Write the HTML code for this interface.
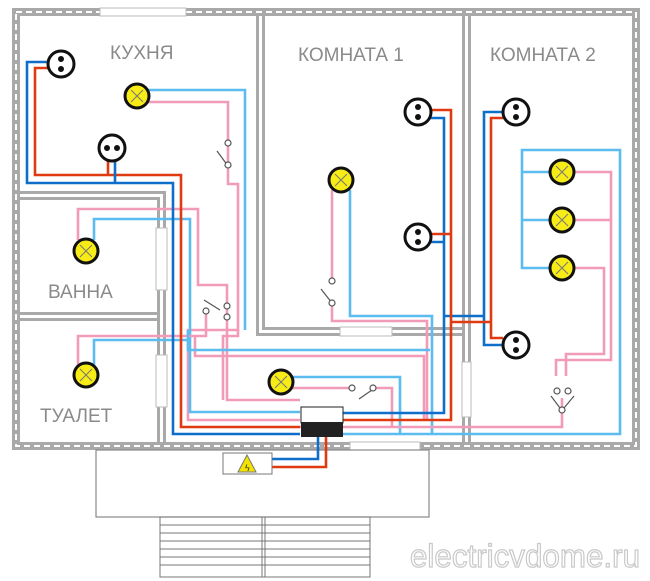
<!DOCTYPE html>
<html><head><meta charset="utf-8"><style>html,body{margin:0;padding:0;background:#fff}svg{display:block}</style></head><body>
<svg width="650" height="581" viewBox="0 0 650 581" xmlns="http://www.w3.org/2000/svg" font-family="Liberation Sans, sans-serif">
<!-- outer walls -->
<g fill="none" stroke="#a9a9a9">
<rect x="16" y="12" width="620" height="434" stroke-width="8"/>
<rect x="16" y="12" width="620" height="434" stroke-width="2" stroke="#fff" stroke-dasharray="6 4"/>
</g>
<rect x="100" y="8" width="86" height="8" fill="#fff" stroke="#bbb"/>
<rect x="350" y="442" width="70" height="8" fill="#fff" stroke="#bbb"/>
<!-- inner walls -->
<g fill="#a9a9a9">
<rect x="256" y="16" width="3" height="320"/><rect x="262" y="16" width="3" height="314"/>
<rect x="262" y="327" width="200" height="3"/><rect x="256" y="333" width="206" height="3"/>
<rect x="462" y="16" width="3" height="426"/><rect x="468" y="16" width="3" height="426"/>
<rect x="20" y="191" width="146" height="3"/><rect x="20" y="197" width="140" height="3"/>
<rect x="20" y="312" width="140" height="3"/><rect x="20" y="318" width="140" height="3"/>
<rect x="157" y="197" width="3" height="245"/><rect x="163" y="191" width="3" height="251"/>
</g>
<rect x="340" y="327" width="52" height="9" fill="#fff" stroke="#bbb"/>
<rect x="156" y="228" width="11" height="62" fill="#fff" stroke="#bbb"/>
<rect x="156" y="355" width="11" height="52" fill="#fff" stroke="#bbb"/>
<rect x="462" y="362" width="9" height="55" fill="#fff" stroke="#bbb"/>
<!-- lower building & stairs -->
<rect x="96" y="450" width="333" height="67" fill="none" stroke="#888" stroke-width="1.2"/>
<g stroke="#777" stroke-width="1" fill="none">
<rect x="160" y="517" width="210" height="60"/>
<path d="M160 525H370M160 533H370M160 541H370M160 549H370M160 557H370M160 565H370M262 517V577M265 517V577"/>
</g>
<!-- labels -->
<g fill="#8a8a8a" font-size="19">
<text x="110" y="59">КУХНЯ</text>
<text x="298" y="61">КОМНАТА 1</text>
<text x="490" y="61">КОМНАТА 2</text>
<text x="48" y="298">ВАННА</text>
<text x="40" y="422">ТУАЛЕТ</text>
</g>
<text x="410" y="567" font-size="32" fill="#fff" stroke="#c8c8c8" stroke-width="1.2" textLength="230" lengthAdjust="spacingAndGlyphs">electricvdome.ru</text>
<!-- wires -->
<g fill="none" stroke-width="2.6">
<path stroke="#f29bb8" d="M148 102H228V184H238V330H188V420H300"/>
<path stroke="#5bbcf0" d="M148 90H245V330"/>
<path stroke="#f29bb8" d="M78 240V209H198V285H227V400H300"/>
<path stroke="#5bbcf0" d="M94 240V219H190V412H300"/>
<path stroke="#f29bb8" d="M78 365V336H206V311"/>
<path stroke="#5bbcf0" d="M94 365V340H190"/>
<path stroke="#f29bb8" d="M238 330V336H223V400"/>
<path stroke="#f29bb8" d="M332 190V282M332 304V321H427V420"/>
<path stroke="#5bbcf0" d="M350 190V316H432V433"/>
<path stroke="#f29bb8" d="M195 336V356H424V420"/>
<path stroke="#5bbcf0" d="M188 330V350H430"/>
<path stroke="#5bbcf0" d="M292 377H400V433"/>
<path stroke="#f29bb8" d="M292 388H350M374 388H392V426"/>
<path stroke="#f29bb8" d="M300 427H562V398"/>
<path stroke="#5bbcf0" d="M342 434H620V150H522V268H550M522 220H550M522 172H550"/>
<path stroke="#f29bb8" d="M574 172H611V360H556V376M574 220H611M574 268H604V354H566V376"/>
<path stroke="#0d6fc9" d="M48 62H27V183H173V434H300"/>
<path stroke="#e03a10" d="M48 68H35V175H181V427H300"/>
<path stroke="#e03a10" d="M108 160V175"/>
<path stroke="#0d6fc9" d="M115 160V183"/>
<path stroke="#0d6fc9" d="M342 413H444V316H484V112H503M444 316V118H430M444 242H430M484 316V345H503"/>
<path stroke="#e03a10" d="M342 420H451V322H491V118H503M451 322V110H430M451 234H430M491 322V338H503"/>
<path stroke="#0d6fc9" d="M318 437V459H272"/>
<path stroke="#e03a10" d="M326 437V467H272"/>
</g>
<!-- switches -->
<g stroke="#555" stroke-width="1.2" fill="#fff">
<line x1="217" y1="151" x2="228" y2="166"/><circle cx="228" cy="143" r="3"/><circle cx="228" cy="165" r="3"/>
<line x1="321" y1="289" x2="332" y2="303"/><circle cx="332" cy="281" r="3"/><circle cx="332" cy="303" r="3"/>
<line x1="204" y1="300" x2="220" y2="310"/><circle cx="206" cy="311" r="3"/><circle cx="227" cy="306" r="3"/><circle cx="227" cy="317" r="3"/>
<line x1="359" y1="399" x2="372" y2="390"/><circle cx="352" cy="388" r="3"/><circle cx="373" cy="388" r="3"/>
<line x1="551" y1="396" x2="560" y2="408"/><line x1="574" y1="396" x2="564" y2="408"/><circle cx="557" cy="391" r="3"/><circle cx="568" cy="391" r="3"/><circle cx="562" cy="410" r="3"/>
</g>
<!-- panel & meter -->
<rect x="301" y="407" width="42" height="16" fill="#fff" stroke="#222"/>
<rect x="301" y="422" width="42" height="15" fill="#222"/>
<rect x="223" y="453" width="49" height="21" fill="#fff" stroke="#777"/>
<polygon points="247,455 256,472 238,472" fill="#f3e300" stroke="#777"/>
<text x="245" y="471" font-size="9" fill="#333">ϟ</text>
<!-- sockets -->
<g>
<g transform="translate(61,64)"><circle r="13" fill="#fff" stroke="#111" stroke-width="3"/><circle cy="-5" r="3" fill="#111"/><circle cy="5" r="3" fill="#111"/></g>
<g transform="translate(112,148)"><circle r="13" fill="#fff" stroke="#111" stroke-width="3"/><circle cx="-5" r="3" fill="#111"/><circle cx="5" r="3" fill="#111"/></g>
<g transform="translate(418,112)"><circle r="13" fill="#fff" stroke="#111" stroke-width="3"/><circle cy="-5" r="3" fill="#111"/><circle cy="5" r="3" fill="#111"/></g>
<g transform="translate(418,237)"><circle r="13" fill="#fff" stroke="#111" stroke-width="3"/><circle cy="-5" r="3" fill="#111"/><circle cy="5" r="3" fill="#111"/></g>
<g transform="translate(516,112)"><circle r="13" fill="#fff" stroke="#111" stroke-width="3"/><circle cy="-5" r="3" fill="#111"/><circle cy="5" r="3" fill="#111"/></g>
<g transform="translate(516,345)"><circle r="13" fill="#fff" stroke="#111" stroke-width="3"/><circle cy="-5" r="3" fill="#111"/><circle cy="5" r="3" fill="#111"/></g>
</g>
<!-- lamps -->
<g fill="#f7ec16" stroke="#111" stroke-width="3">
<circle cx="137" cy="96" r="12"/><circle cx="86" cy="251" r="12"/><circle cx="341" cy="180" r="12"/>
<circle cx="86" cy="375" r="12"/><circle cx="281" cy="382" r="12"/>
<circle cx="562" cy="172" r="12"/><circle cx="562" cy="220" r="12"/><circle cx="562" cy="268" r="12"/>
</g>
<g stroke="#777" stroke-width="1">
<path d="M131 90l12 12M143 90l-12 12M80 245l12 12M92 245l-12 12M335 174l12 12M347 174l-12 12M80 369l12 12M92 369l-12 12M275 376l12 12M287 376l-12 12M556 166l12 12M568 166l-12 12M556 214l12 12M568 214l-12 12M556 262l12 12M568 262l-12 12"/>
</g>
</svg>
</body></html>
